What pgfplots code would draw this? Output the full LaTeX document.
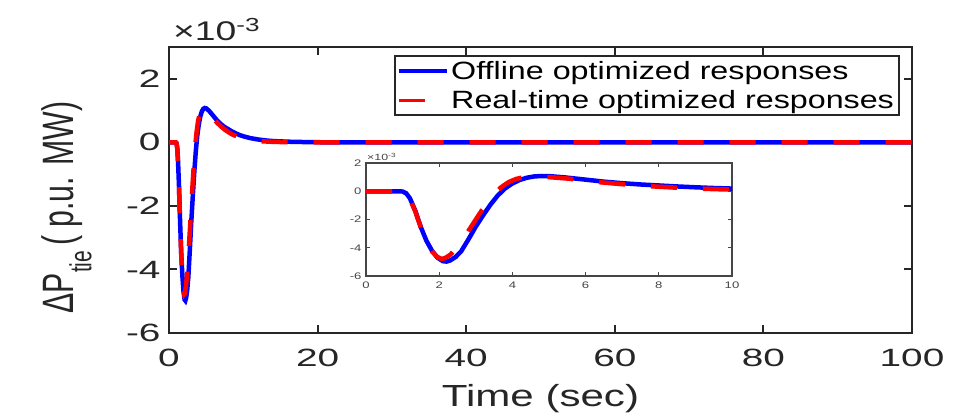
\documentclass[border=0pt]{standalone}
\usepackage{fontspec}
\setmainfont{Liberation Sans}[FakeStretch=1.38]
\newfontfamily\plainfont{Liberation Sans}
\newfontfamily\tickfont{Liberation Sans}[FakeStretch=1.55]
\newfontfamily\legendfont{Liberation Sans}[FakeStretch=1.29]
\usepackage{pgfplots}
\usepackage{pgfplotstable}
\pgfplotsset{compat=1.18}
\definecolor{axgray}{RGB}{38,38,38}
\definecolor{ingray}{RGB}{70,70,70}
\definecolor{mblue}{RGB}{0,0,255}
\definecolor{mred}{RGB}{255,0,0}

\pgfplotstableread{
t v
0 0
0.9 0
1.0 -0.02
1.1 -0.15
1.2 -0.5
1.35 -1.4
1.5 -2.55
1.65 -3.5
1.8 -4.2
1.95 -4.7
2.1 -4.95
2.2 -4.98
2.3 -4.9
2.45 -4.65
2.6 -4.25
2.8 -3.4
3.0 -2.5
3.2 -1.7
3.4 -0.95
3.6 -0.3
3.8 0.2
4.0 0.55
4.2 0.8
4.4 0.96
4.6 1.05
4.8 1.08
5.0 1.07
5.4 0.99
5.9 0.85
6.5 0.68
7.0 0.57
7.5 0.48
8.0 0.41
8.5 0.34
9.0 0.28
9.5 0.23
10 0.19
11 0.13
12 0.09
13 0.06
14 0.04
16 0.02
19 0.005
22 0
100 0
}\offline

\pgfplotstableread{
t v
0 0
0.9 0
1.0 -0.02
1.1 -0.16
1.2 -0.55
1.35 -1.45
1.5 -2.6
1.65 -3.55
1.8 -4.25
1.95 -4.65
2.05 -4.78
2.15 -4.75
2.3 -4.5
2.5 -3.95
2.7 -3.2
2.9 -2.4
3.1 -1.6
3.3 -0.85
3.5 -0.2
3.7 0.3
3.9 0.65
4.1 0.87
4.3 0.99
4.5 1.04
4.7 1.04
5.0 1.0
5.5 0.9
6.0 0.75
6.5 0.61
7.0 0.5
7.5 0.4
8.0 0.32
8.5 0.25
9.0 0.2
9.5 0.15
10 0.12
11 0.07
12 0.04
14 0.015
17 0
100 0
}\realtime

\begin{document}
\begin{tikzpicture}[x=1pt,y=1pt]
\path[use as bounding box, fill=white] (0,0) rectangle (953,414);
\begin{axis}[
  at={(169pt,81pt)}, anchor=south west,
  scale only axis, width=743pt, height=286pt,
  xmin=0, xmax=100, ymin=-6, ymax=3,
  xtick={0,20,...,100}, ytick={-6,-4,...,2},
  tick align=inside, major tick length=8pt,
  axis line style={draw=axgray, line width=2.5pt},
  major tick style={draw=axgray, line width=2pt},
  /pgf/number format/assume math mode=true,
  ticklabel style={font=\tickfont\fontsize{25}{28}\selectfont, text=axgray},
  xticklabel style={yshift=-13pt},
  yticklabel style={xshift=-5pt},
  legend style={at={(axis description cs:0.9838,0.972)}, anchor=north east,
    draw=axgray, line width=2pt, fill=white,
    font=\legendfont\fontsize{25}{28}\selectfont,
    inner xsep=3pt, inner ysep=3pt, row sep=6pt},
  legend cell align=left,
  legend image code/.code={\draw[#1, line width=3.5pt] (0pt,0pt) -- (48pt,0pt);},
]
\addplot[mblue, line width=4.5pt] table[x=t,y=v] {\offline};
\addlegendentry{Offline optimized responses}
\addplot[mred, line width=4.5pt, dash pattern=on 26pt off 26pt] table[x=t,y=v] {\realtime};
\addlegendentry{Real-time optimized responses\hspace{6pt}}
\end{axis}

\begin{axis}[
  at={(366pt,138pt)}, anchor=south west,
  scale only axis, width=366pt, height=113pt,
  xmin=0, xmax=10, ymin=-6, ymax=2,
  xtick={0,2,...,10}, ytick={-6,-4,...,2},
  tick align=inside, major tick length=4pt,
  axis line style={draw=ingray, line width=1.5pt},
  major tick style={draw=ingray, line width=1.2pt},
  axis background/.style={fill=white},
  /pgf/number format/assume math mode=true,
  ticklabel style={font=\fontsize{9.5}{11}\selectfont, text=ingray},
  xticklabel style={yshift=-2.5pt},
  yticklabel style={xshift=-1pt},
]
\addplot[mblue, line width=4.5pt] table[x=t,y=v] {\offline};
\addplot[mred, line width=4.5pt, dash pattern=on 26pt off 26pt] table[x=t,y=v] {\realtime};
\end{axis}

\node[anchor=base west, text=axgray, font=\fontsize{27}{30}\selectfont, inner sep=0pt] at (173,373) {\texttimes10\textsuperscript{-3}};
\node[anchor=base west, text=ingray, font=\fontsize{9}{11}\selectfont, inner sep=0pt] at (367,253) {\texttimes10\textsuperscript{-3}};
\node[anchor=base, text=axgray, font=\fontsize{30.5}{34}\selectfont, inner sep=0pt] at (540.5,7.3) {Time (sec)};
\node[rotate=90, anchor=base, text=axgray, inner sep=0pt] at (73,206.5) {\scalebox{1}[1.45]{\plainfont\fontsize{30.3}{34}\selectfont ΔP\raisebox{-0.42em}{\fontsize{21}{24}\selectfont tie}\,( p.u. MW)}};
\end{tikzpicture}
\end{document}
